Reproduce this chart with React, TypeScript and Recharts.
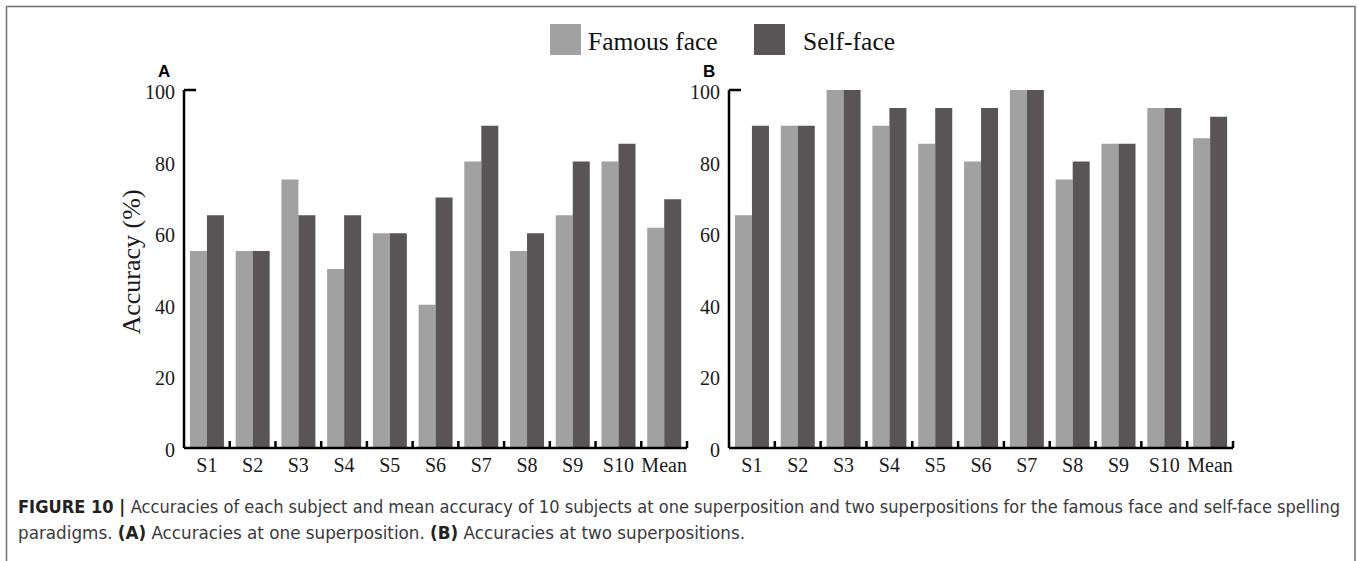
import React from "react";
import { Bar, BarChart, XAxis, YAxis } from "recharts";

const subjects = ["S1", "S2", "S3", "S4", "S5", "S6", "S7", "S8", "S9", "S10", "Mean"];
// A: one superposition
const famousOne = [55, 55, 75, 50, 60, 40, 80, 55, 65, 80, 61.5];
const selfOne = [65, 55, 65, 65, 60, 70, 90, 60, 80, 85, 69.5];
// B: two superpositions
const famousTwo = [65, 90, 100, 90, 85, 80, 100, 75, 85, 95, 86.5];
const selfTwo = [90, 90, 100, 95, 95, 95, 100, 80, 85, 95, 92.5];
const yTicks = [0, 20, 40, 60, 80, 100];
const seriesNames = ["Famous face", "Self-face"];
const seriesColors = ["#a1a1a1", "#595557"];

const SERIF = "'Liberation Serif', 'Times New Roman', serif";
const SANS = "'Liberation Sans', Arial, sans-serif";
const NARROW = "'Liberation Sans Narrow', 'DejaVu Sans Condensed', 'Liberation Sans', sans-serif";

function XTick(props: any) {
  const { x, y, payload, width, visibleTicksCount } = props;
  const band = width && visibleTicksCount ? width / visibleTicksCount : (payload.offset ?? 0) * 2;
  const edge = x + band / 2;
  return (
    <g>
      <line x1={edge} x2={edge} y1={y} y2={y - 7} stroke="#000" strokeWidth={2.5} />
      <text x={x} y={y + 24} textAnchor="middle" fontFamily={SERIF} fontSize={20} fill="#1a1a1a">
        {payload.value}
      </text>
    </g>
  );
}

function YTick(props: any) {
  const { x, y, payload } = props;
  return (
    <g>
      <text x={x - 9} y={y} dy={9} textAnchor="end" fontFamily={SERIF} fontSize={20} fill="#1a1a1a">
        {payload.value}
      </text>
      {payload.value === 100 && (
        <line x1={x} x2={x + 12} y1={y} y2={y} stroke="#000" strokeWidth={2.5} />
      )}
    </g>
  );
}

function Panel({
  famous,
  self,
  left,
  width,
  yAxisWidth,
  plotLeft,
  plotRight,
}: {
  famous: number[];
  self: number[];
  left: number;
  width: number;
  yAxisWidth: number;
  plotLeft: number;
  plotRight: number;
}) {
  const data = subjects.map((s, i) => ({ subject: s, famous: famous[i], self: self[i] }));
  const height = 500;
  const xAxisHeight = 40;
  return (
    <div style={{ position: "absolute", left, top: 0 }}>
      <BarChart
        width={width}
        height={height}
        data={data}
        barCategoryGap="13%"
        barGap={0}
        margin={{
          top: 90,
          right: width - plotRight,
          bottom: height - 448 - xAxisHeight,
          left: plotLeft - yAxisWidth,
        }}
      >
        <XAxis
          dataKey="subject"
          interval={0}
          height={xAxisHeight}
          tickLine={false}
          tickSize={0}
          tickMargin={0}
          axisLine={{ stroke: "#000", strokeWidth: 2.5 }}
          tick={<XTick />}
        />
        <YAxis
          domain={[0, 100]}
          ticks={yTicks}
          interval={0}
          width={yAxisWidth}
          tickLine={false}
          tickSize={0}
          tickMargin={0}
          axisLine={{ stroke: "#000", strokeWidth: 2.5 }}
          tick={<YTick />}
        />
        <Bar dataKey="famous" name={seriesNames[0]} fill={seriesColors[0]} isAnimationActive={false} />
        <Bar dataKey="self" name={seriesNames[1]} fill={seriesColors[1]} isAnimationActive={false} />
      </BarChart>
    </div>
  );
}

export default function App() {
  return (
    <div style={{ position: "absolute", left: 0, top: 0, width: 1357, height: 561, background: "#fff" }}>
      <svg width={1357} height={561} style={{ position: "absolute", left: 0, top: 0 }}>
        {/* frame */}
        <path d="M6.5 561 V6.5 H1355 V561" fill="none" stroke="#707070" strokeWidth={1.5} />
        {/* legend */}
        <rect x={550} y={24} width={31} height={31} fill={seriesColors[0]} />
        <text x={588} y={50} fontFamily={SERIF} fontSize={25.5} fill="#111">
          {seriesNames[0]}
        </text>
        <rect x={754} y={24} width={31} height={31} fill={seriesColors[1]} />
        <text x={803} y={50} fontFamily={SERIF} fontSize={25.5} fill="#111">
          {seriesNames[1]}
        </text>
        {/* panel letters */}
        <text x={158} y={77} fontFamily={SANS} fontWeight="bold" fontSize={17} fill="#000">
          A
        </text>
        <text x={703} y={77} fontFamily={SANS} fontWeight="bold" fontSize={17} fill="#000">
          B
        </text>
        {/* y label */}
        <text
          x={0}
          y={0}
          transform="translate(140 262) rotate(-90)"
          textAnchor="middle"
          fontFamily={SERIF}
          fontSize={26}
          fill="#1a1a1a"
        >
          Accuracy (%)
        </text>
        {/* caption */}
        <text x={18} y={513} fontFamily={NARROW} fontSize={18} fill="#3a3a3a" textLength={1322} lengthAdjust="spacingAndGlyphs">
          <tspan fontWeight="bold" fill="#222">FIGURE 10 | </tspan>
          <tspan>
            Accuracies of each subject and mean accuracy of 10 subjects at one superposition and two superpositions for the famous face and self-face spelling
          </tspan>
        </text>
        <text x={18} y={539} fontFamily={NARROW} fontSize={18} fill="#3a3a3a" textLength={727} lengthAdjust="spacingAndGlyphs">
          <tspan>paradigms. </tspan>
          <tspan fontWeight="bold" fill="#222">(A)</tspan>
          <tspan> Accuracies at one superposition. </tspan>
          <tspan fontWeight="bold" fill="#222">(B)</tspan>
          <tspan> Accuracies at two superpositions.</tspan>
        </text>
      </svg>
      <Panel famous={famousOne} self={selfOne} left={0} width={700} yAxisWidth={50} plotLeft={184} plotRight={687} />
      <Panel famous={famousTwo} self={selfTwo} left={680} width={600} yAxisWidth={40} plotLeft={49} plotRight={553} />
    </div>
  );
}
